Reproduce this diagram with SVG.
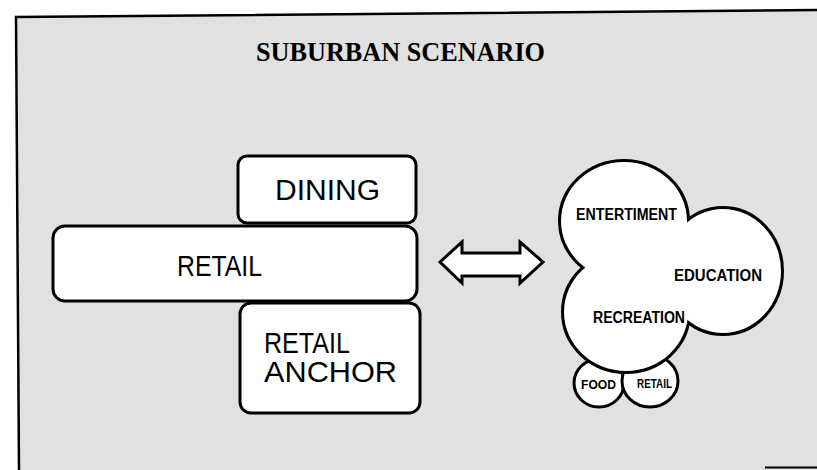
<svg xmlns="http://www.w3.org/2000/svg" width="817" height="470" viewBox="0 0 817 470">
<style>
.box{fill:#fff;stroke:#000;stroke-width:3}
.lbl{font-family:"Liberation Sans",Arial,sans-serif;font-size:30px;fill:#000}
.bl{font-family:"Liberation Sans",Arial,sans-serif;font-weight:bold;font-size:16px;fill:#000}
.ttl{font-family:"Liberation Serif","Times New Roman",serif;font-weight:bold;font-size:28px;fill:#000}
.ol{fill:none;stroke:#000;stroke-width:6}
.wf{fill:#fff;stroke:none}
.sc{fill:#fff;stroke:#000;stroke-width:3}
</style>
<rect x="0" y="0" width="817" height="470" fill="#fff"/>
<g id="frame">
<polygon points="16,17 817,10 817,470 19,470" fill="#e1e1e1"/>
<polyline points="817,10 16,17 19,470" fill="none" stroke="#000" stroke-width="2.5"/>
<line x1="765" y1="467.5" x2="817" y2="467.5" stroke="#000" stroke-width="2"/>
</g>
<text class="ttl" x="256" y="61" textLength="289" lengthAdjust="spacingAndGlyphs">SUBURBAN SCENARIO</text>
<g id="dining">
<rect class="box" x="238" y="156" width="178" height="67" rx="9"/>
<text class="lbl" x="275" y="200" textLength="105" lengthAdjust="spacingAndGlyphs">DINING</text>
</g>
<g id="retail">
<rect class="box" x="53" y="226" width="364" height="75" rx="12"/>
<text class="lbl" x="177" y="276" textLength="85" lengthAdjust="spacingAndGlyphs">RETAIL</text>
</g>
<g id="retail-anchor">
<rect class="box" x="240" y="303" width="180" height="110" rx="11"/>
<text class="lbl" x="264" y="353" textLength="86" lengthAdjust="spacingAndGlyphs">RETAIL</text>
<text class="lbl" x="264" y="382" textLength="133" lengthAdjust="spacingAndGlyphs">ANCHOR</text>
</g>
<g id="connectors">
<polygon points="440,262 462,242 462,253 520,253 520,242 543,262 520,283 520,276 462,276 462,283" fill="#fff" stroke="#000" stroke-width="3" stroke-linejoin="miter"/>
</g>
<g id="food">
<ellipse class="sc" cx="599" cy="383" rx="25" ry="24"/>
<text class="bl" x="581" y="389" style="font-size:13px" textLength="35" lengthAdjust="spacingAndGlyphs">FOOD</text>
</g>
<g id="retail-small">
<ellipse class="sc" cx="650" cy="381" rx="28" ry="26"/>
<text class="bl" x="637" y="388" style="font-size:12px" textLength="35" lengthAdjust="spacingAndGlyphs">RETAIL</text>
</g>
<g id="cluster">
<ellipse class="ol" cx="624" cy="221" rx="63" ry="59"/>
<ellipse class="ol" cx="626" cy="312" rx="62" ry="59"/>
<ellipse class="ol" cx="723" cy="271" rx="58" ry="62"/>
<ellipse class="wf" cx="624" cy="221" rx="63" ry="59"/>
<ellipse class="wf" cx="626" cy="312" rx="62" ry="59"/>
<ellipse class="wf" cx="723" cy="271" rx="58" ry="62"/>
<polygon class="wf" points="624,221 626,312 723,271"/>
</g>
<g id="entertainment">
<text class="bl" x="576" y="220" textLength="101" lengthAdjust="spacingAndGlyphs">ENTERTIMENT</text>
</g>
<g id="education">
<text class="bl" x="674" y="281" textLength="88" lengthAdjust="spacingAndGlyphs">EDUCATION</text>
</g>
<g id="recreation">
<text class="bl" x="593" y="323" textLength="92" lengthAdjust="spacingAndGlyphs">RECREATION</text>
</g>
</svg>
